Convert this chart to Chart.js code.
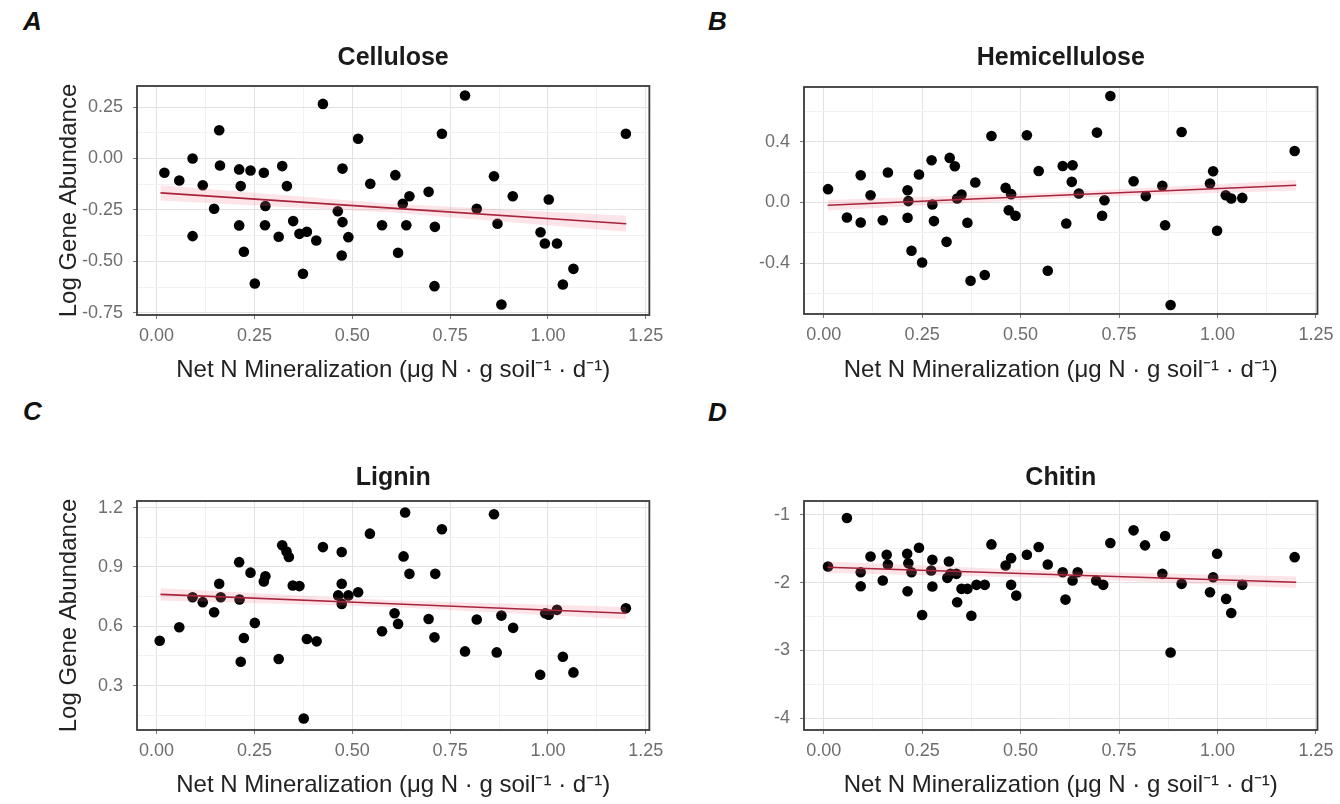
<!DOCTYPE html>
<html lang="en">
<head>
    <meta charset="UTF-8">
    <title>Gene abundance vs net N mineralization</title>
    <script src="https://cdn.jsdelivr.net/npm/chart.js"></script>
    <style>
        body {
            margin: 0;
            background: #ffffff;
            width: 1340px;
            height: 804px;
            position: relative;
            overflow: hidden;
            font-family: "Liberation Sans", Arial, sans-serif;
        }
        canvas {
            position: absolute;
        }
        .letter {
            position: absolute;
            font-size: 26px;
            font-weight: bold;
            font-style: italic;
            color: #111;
            line-height: 1;
        }
    </style>
</head>
<body>
    <div class="letter" style="left:23px; top:8px;">A</div>
    <div class="letter" style="left:708px; top:8px;">B</div>
    <div class="letter" style="left:23px; top:398px;">C</div>
    <div class="letter" style="left:708px; top:399px;">D</div>

    <canvas id="chartA" width="670" height="400" style="left:0px; top:0px;"></canvas>
    <canvas id="chartB" width="660" height="400" style="left:680px; top:0px;"></canvas>
    <canvas id="chartC" width="670" height="404" style="left:0px; top:400px;"></canvas>
    <canvas id="chartD" width="660" height="404" style="left:680px; top:400px;"></canvas>

    <script>
        // net N mineralization (x) and log gene abundance (y)
        const celluloseX = [0.02,0.058,0.092,0.092,0.118,0.147,0.16,0.162,0.211,0.215,0.211,0.223,0.24,0.251,0.274,0.278,0.277,0.312,0.321,0.333,0.349,0.365,0.384,0.374,0.408,0.425,0.463,0.475,0.475,0.49,0.473,0.515,0.546,0.576,0.61,0.617,0.629,0.646,0.638,0.695,0.711,0.71,0.729,0.788,0.818,0.862,0.871,0.881,0.91,0.981,0.992,1.002,1.023,1.038,1.065,1.199];
        const celluloseY = [-0.069,-0.107,0.0,-0.377,-0.13,-0.244,0.137,-0.034,-0.053,-0.134,-0.325,-0.453,-0.058,-0.607,-0.069,-0.231,-0.324,-0.38,-0.037,-0.134,-0.304,-0.366,-0.356,-0.56,-0.398,0.265,-0.256,-0.049,-0.309,-0.382,-0.471,0.096,-0.123,-0.324,-0.081,-0.458,-0.22,-0.183,-0.324,-0.162,-0.332,-0.62,0.12,0.306,-0.244,-0.086,-0.317,-0.709,-0.183,-0.358,-0.413,-0.199,-0.413,-0.612,-0.536,0.12];

        const hemiX = [0.011,0.059,0.094,0.094,0.119,0.15,0.163,0.213,0.215,0.213,0.223,0.242,0.25,0.274,0.276,0.28,0.312,0.32,0.333,0.339,0.35,0.365,0.373,0.385,0.409,0.426,0.462,0.476,0.47,0.487,0.516,0.546,0.569,0.694,0.728,0.607,0.632,0.63,0.648,0.616,0.713,0.707,0.787,0.818,0.86,0.867,0.881,0.909,0.989,0.981,0.999,1.021,1.035,1.063,1.196];
        const hemiY = [0.088,-0.099,0.18,-0.132,0.048,-0.117,0.198,0.081,0.009,-0.101,-0.319,0.185,-0.396,0.279,-0.013,-0.123,-0.26,0.294,0.239,0.026,0.053,-0.134,-0.517,0.132,-0.479,0.439,0.096,0.055,-0.051,-0.088,0.444,0.208,-0.451,0.461,0.703,0.241,0.246,0.136,0.059,-0.139,0.015,-0.088,0.14,0.042,0.11,-0.15,-0.677,0.465,0.206,0.125,-0.187,0.048,0.026,0.03,0.34];

        const ligninX = [0.008,0.058,0.092,0.118,0.147,0.16,0.164,0.211,0.212,0.223,0.215,0.24,0.251,0.278,0.274,0.312,0.321,0.332,0.338,0.348,0.365,0.384,0.409,0.376,0.425,0.473,0.473,0.464,0.473,0.49,0.515,0.545,0.576,0.635,0.729,0.631,0.646,0.712,0.608,0.617,0.695,0.71,0.788,0.818,0.862,0.869,0.881,0.911,0.98,0.993,1.002,1.023,1.038,1.065,1.199];
        const ligninY = [0.527,0.595,0.747,0.722,0.671,0.815,0.747,0.924,0.735,0.541,0.421,0.871,0.617,0.853,0.826,0.435,1.009,0.978,0.95,0.806,0.803,0.536,0.524,0.134,1.0,0.975,0.815,0.756,0.713,0.756,0.772,1.068,0.575,1.175,1.09,0.953,0.865,0.865,0.666,0.612,0.637,0.544,0.473,0.634,1.166,0.468,0.654,0.592,0.355,0.666,0.658,0.683,0.446,0.367,0.691];

        const chitinX = [0.011,0.059,0.094,0.094,0.119,0.15,0.16,0.163,0.212,0.215,0.223,0.213,0.242,0.25,0.276,0.273,0.276,0.318,0.322,0.314,0.337,0.339,0.35,0.365,0.375,0.388,0.409,0.426,0.462,0.476,0.476,0.489,0.516,0.546,0.569,0.607,0.632,0.645,0.614,0.692,0.71,0.728,0.787,0.816,0.867,0.86,0.909,0.881,0.999,0.989,0.981,1.022,1.035,1.063,1.196];
        const chitinY = [-1.764,-1.05,-1.848,-2.055,-1.616,-1.97,-1.591,-1.734,-1.576,-1.715,-1.848,-2.128,-1.487,-2.477,-1.665,-1.823,-2.059,-1.69,-1.872,-1.931,-1.872,-2.291,-2.093,-2.093,-2.488,-2.034,-2.034,-1.439,-1.749,-1.641,-2.034,-2.192,-1.591,-1.478,-1.734,-1.848,-1.97,-1.848,-2.251,-1.97,-2.034,-1.419,-1.232,-1.453,-1.316,-1.872,-2.019,-3.03,-1.576,-1.922,-2.143,-2.241,-2.448,-2.034,-1.626];

        // fitted lm lines and their confidence band (start, middle, end)
        const fitX = [0.01, 0.6, 1.2];
        const celluloseFit = [-0.167, -0.241, -0.317];
        const celluloseHi = [-0.13, -0.22, -0.278];
        const celluloseLo = [-0.204, -0.262, -0.356];
        const hemiFit = [-0.018, 0.048, 0.114];
        const hemiHi = [0.017, 0.068, 0.149];
        const hemiLo = [-0.053, 0.028, 0.079];
        const ligninFit = [0.761, 0.714, 0.666];
        const ligninHi = [0.792, 0.731, 0.697];
        const ligninLo = [0.73, 0.697, 0.635];
        const chitinFit = [-1.774, -1.885, -1.995];
        const chitinHi = [-1.69, -1.835, -1.91];
        const chitinLo = [-1.858, -1.935, -2.08];

        // axis breaks
        const xBreaks = [0, 0.25, 0.5, 0.75, 1.0, 1.25];
        const celluloseBreaks = [-0.75, -0.5, -0.25, 0, 0.25];
        const hemiBreaks = [-0.4, 0, 0.4];
        const ligninBreaks = [0.3, 0.6, 0.9, 1.2];
        const chitinBreaks = [-4, -3, -2, -1];

        const FONT = '"Liberation Sans", Arial, sans-serif';
        const xTitle = 'Net N Mineralization (\u03bcg N \u00b7 g soil\u207b\u00b9 \u00b7 d\u207b\u00b9)';
        const TITLE_SIZE = 25, AXIS_SIZE = 24, TICK_SIZE = 18;

        function pts(xs, ys) {
            return xs.map((x, i) => ({ x: x, y: ys[i] }));
        }

        // majors plus ggplot style minor breaks halfway between them
        function breaksWithMinor(majors, min, max) {
            const step = majors[1] - majors[0];
            const out = [];
            for (let v = majors[0] - step; v <= majors[majors.length - 1] + step + 1e-9; v += step / 2) {
                const r = Math.round(v * 1000) / 1000;
                if (r >= min && r <= max) out.push(r);
            }
            return out;
        }

        const framePlugin = {
            id: 'frame',
            afterDraw(chart) {
                const a = chart.chartArea;
                const ctx = chart.ctx;
                ctx.save();
                ctx.strokeStyle = '#3a3a3a';
                ctx.lineWidth = 1.8;
                ctx.strokeRect(a.left, a.top, a.right - a.left, a.bottom - a.top);
                ctx.restore();
            }
        };

        function makePanel(id, cfg) {
            const canvas = document.getElementById(id);
            const cx = parseFloat(canvas.style.left);
            const cy = parseFloat(canvas.style.top);
            const cw = canvas.width, ch = canvas.height;
            const t = cfg.target;

            const titleLH = TITLE_SIZE * 1.2;
            const axisLH = AXIS_SIZE * 1.2;
            const padTop = 10;
            const tPadTop = t.titleY - cy - padTop - titleLH / 2;
            const tPadBottom = t.top - cy - padTop - tPadTop - titleLH;
            const padLeft = cfg.yLabel ? t.yTitleX - cx - axisLH / 2 : 10;
            const padRight = cx + cw - t.right;
            const padBottom = cy + ch - t.xTitleY - axisLH / 2;
            const yWidth = t.left - cx - padLeft;
            const xHeight = cy + ch - padBottom - t.bottom;

            const isMajor = (list, v) => list.some(m => Math.abs(m - v) < 1e-6);
            const xAll = breaksWithMinor(xBreaks, cfg.xRange[0], cfg.xRange[1]);
            const yAll = breaksWithMinor(cfg.yBreaks, cfg.yRange[0], cfg.yRange[1]);

            return new Chart(canvas.getContext('2d'), {
                type: 'scatter',
                data: {
                    datasets: [
                        {
                            type: 'line',
                            data: pts(fitX, cfg.fit),
                            borderColor: '#a8243a',
                            borderWidth: 1.6,
                            pointRadius: 0,
                            fill: false
                        },
                        {
                            type: 'line',
                            data: pts(fitX, cfg.hi),
                            borderWidth: 0,
                            pointRadius: 0,
                            backgroundColor: 'rgba(240, 120, 140, 0.2)',
                            fill: '+1'
                        },
                        {
                            type: 'line',
                            data: pts(fitX, cfg.lo),
                            borderWidth: 0,
                            pointRadius: 0,
                            fill: false
                        },
                        {
                            data: pts(cfg.x, cfg.y),
                            backgroundColor: '#000000',
                            borderColor: '#000000',
                            pointRadius: 5.3,
                            borderWidth: 0
                        }
                    ]
                },
                options: {
                    responsive: false,
                    animation: false,
                    devicePixelRatio: 1,
                    layout: { padding: { top: padTop, left: padLeft, right: padRight, bottom: padBottom } },
                    plugins: {
                        legend: { display: false },
                        tooltip: { enabled: false },
                        title: {
                            display: true,
                            text: cfg.title,
                            fullSize: false,
                            color: '#1a1a1a',
                            font: { family: FONT, size: TITLE_SIZE, weight: 'bold' },
                            padding: { top: tPadTop, bottom: tPadBottom }
                        }
                    },
                    scales: {
                        x: {
                            type: 'linear',
                            min: cfg.xRange[0],
                            max: cfg.xRange[1],
                            afterBuildTicks: s => { s.ticks = xAll.map(v => ({ value: v })); },
                            afterFit: s => { s.height = xHeight; },
                            border: { display: false },
                            grid: {
                                color: c => isMajor(xBreaks, c.tick.value) ? '#e2e2e2' : '#f1f1f1',
                                tickColor: c => isMajor(xBreaks, c.tick.value) ? '#777' : 'rgba(0,0,0,0)',
                                tickLength: 4
                            },
                            ticks: {
                                autoSkip: false,
                                maxRotation: 0,
                                padding: 6.5,
                                color: '#6e6e6e',
                                font: { family: FONT, size: TICK_SIZE },
                                callback: v => isMajor(xBreaks, v) ? v.toFixed(2) : ''
                            },
                            title: {
                                display: true,
                                text: xTitle,
                                color: '#222',
                                font: { family: FONT, size: AXIS_SIZE },
                                padding: 0
                            }
                        },
                        y: {
                            type: 'linear',
                            min: cfg.yRange[0],
                            max: cfg.yRange[1],
                            afterBuildTicks: s => { s.ticks = yAll.map(v => ({ value: v })); },
                            afterFit: s => { s.width = yWidth; },
                            border: { display: false },
                            grid: {
                                color: c => isMajor(cfg.yBreaks, c.tick.value) ? '#e2e2e2' : '#f1f1f1',
                                tickColor: c => isMajor(cfg.yBreaks, c.tick.value) ? '#777' : 'rgba(0,0,0,0)',
                                tickLength: 4
                            },
                            ticks: {
                                autoSkip: false,
                                padding: 10,
                                color: '#6e6e6e',
                                font: { family: FONT, size: TICK_SIZE },
                                callback: v => isMajor(cfg.yBreaks, v) ? v.toFixed(cfg.digits) : ''
                            },
                            title: {
                                display: cfg.yLabel,
                                text: 'Log Gene Abundance',
                                color: '#222',
                                font: { family: FONT, size: AXIS_SIZE },
                                padding: 0
                            }
                        }
                    }
                },
                plugins: [framePlugin]
            });
        }

        makePanel('chartA', {
            title: 'Cellulose', x: celluloseX, y: celluloseY,
            fit: celluloseFit, hi: celluloseHi, lo: celluloseLo,
            yBreaks: celluloseBreaks, digits: 2, yLabel: true,
            xRange: [-0.05, 1.259], yRange: [-0.76, 0.352],
            target: { left: 137, right: 653, top: 86, bottom: 315, titleY: 58, xTitleY: 370, yTitleX: 69 }
        });
        makePanel('chartB', {
            title: 'Hemicellulose', x: hemiX, y: hemiY,
            fit: hemiFit, hi: hemiHi, lo: hemiLo,
            yBreaks: hemiBreaks, digits: 1, yLabel: false,
            xRange: [-0.05, 1.254], yRange: [-0.736, 0.762],
            target: { left: 804, right: 1318, top: 87, bottom: 314, titleY: 58, xTitleY: 370, yTitleX: 0 }
        });
        makePanel('chartC', {
            title: 'Lignin', x: ligninX, y: ligninY,
            fit: ligninFit, hi: ligninHi, lo: ligninLo,
            yBreaks: ligninBreaks, digits: 1, yLabel: true,
            xRange: [-0.05, 1.259], yRange: [0.076, 1.233],
            target: { left: 137, right: 653, top: 501, bottom: 730, titleY: 478, xTitleY: 785, yTitleX: 69 }
        });
        makePanel('chartD', {
            title: 'Chitin', x: chitinX, y: chitinY,
            fit: chitinFit, hi: chitinHi, lo: chitinLo,
            yBreaks: chitinBreaks, digits: 0, yLabel: false,
            xRange: [-0.05, 1.254], yRange: [-4.17, -0.8],
            target: { left: 804, right: 1318, top: 501, bottom: 730, titleY: 478, xTitleY: 785, yTitleX: 0 }
        });
    </script>
</body>
</html>
